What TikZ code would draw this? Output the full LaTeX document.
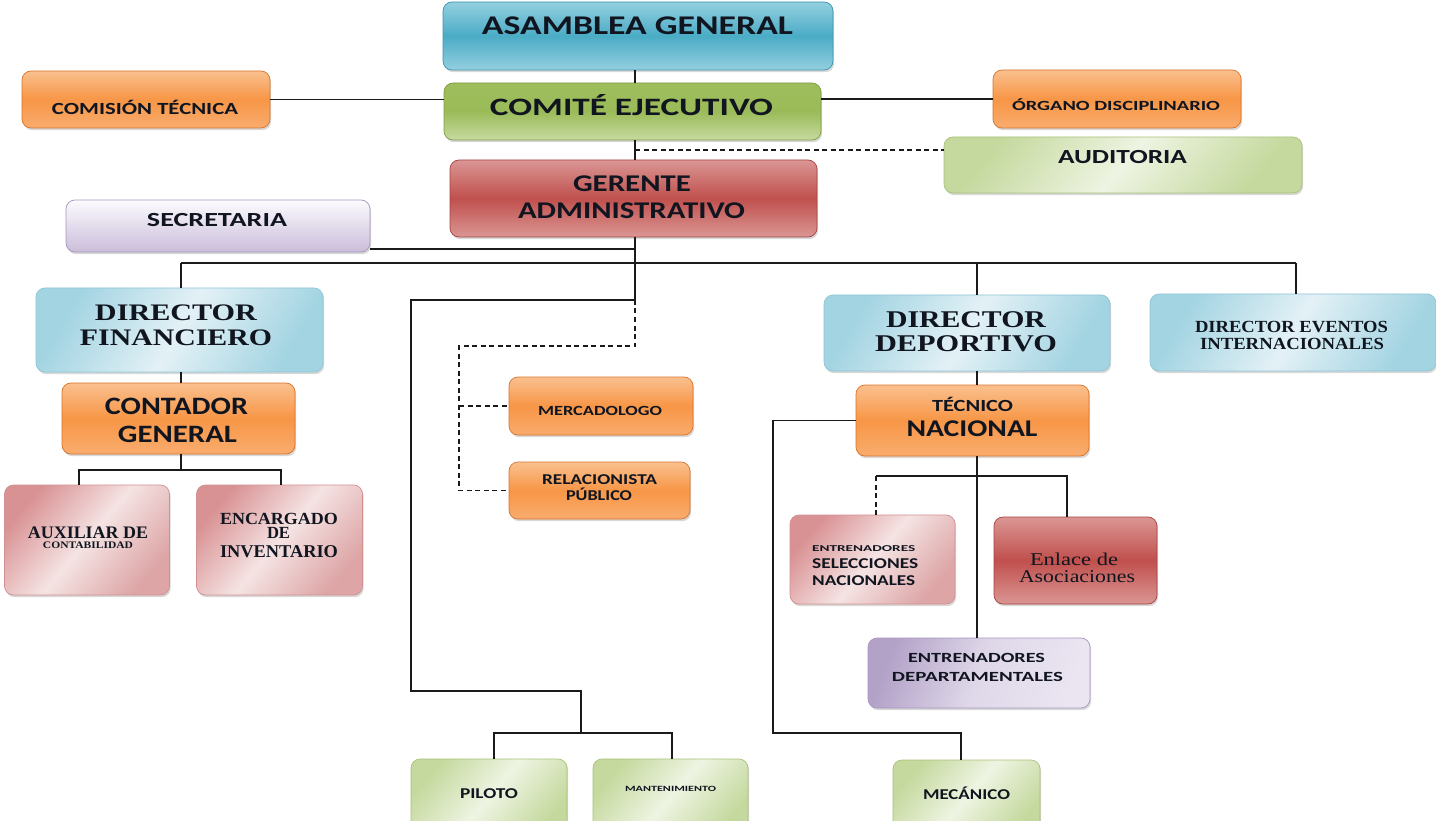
\documentclass[tikz,border=0pt]{standalone}
\usepackage{fontspec}
\setmainfont{Liberation Serif}
\setsansfont{Carlito}
\usepackage{graphicx}
\usetikzlibrary{shadows}
\definecolor{txt}{HTML}{10151F}
\definecolor{lnc}{HTML}{1A1A1A}
\definecolor{blueL}{HTML}{93CFDF}
\definecolor{blueM}{HTML}{4BACC6}
\definecolor{blueB}{HTML}{3C94AD}
\definecolor{greenT}{HTML}{9EBD5C}
\definecolor{greenM}{HTML}{9BBB59}
\definecolor{greenB}{HTML}{C6DAA0}
\definecolor{greenD}{HTML}{7F9D44}
\definecolor{orT}{HTML}{FAC08F}
\definecolor{orM}{HTML}{F79646}
\definecolor{orB}{HTML}{F9AC6E}
\definecolor{orD}{HTML}{D9742A}
\definecolor{redL}{HTML}{DA9694}
\definecolor{redM}{HTML}{C0504D}
\definecolor{redD}{HTML}{A44441}
\definecolor{lbE}{HTML}{A3D4E2}
\definecolor{lbM}{HTML}{E3F1F6}
\definecolor{lbD}{HTML}{8EC6D6}
\definecolor{pkE}{HTML}{D99294}
\definecolor{pkM}{HTML}{F5E3E3}
\definecolor{pkR}{HTML}{DDA5A6}
\definecolor{pkD}{HTML}{D39091}
\definecolor{lgE}{HTML}{C5D99E}
\definecolor{lgM}{HTML}{EEF4E2}
\definecolor{lgD}{HTML}{A9C279}
\definecolor{lvT}{HTML}{FCFBFE}
\definecolor{lvB}{HTML}{CABDDA}
\definecolor{lvE}{HTML}{B3A2C8}
\definecolor{lvM}{HTML}{EAE5F1}
\definecolor{lvD}{HTML}{A896C0}
\newcommand\Fsb[1]{\sffamily\bfseries\fontsize{#1}{#1}\selectfont}
\newcommand\Frb[1]{\rmfamily\bfseries\fontsize{#1}{#1}\selectfont}
\newcommand\Frn[1]{\rmfamily\fontsize{#1}{#1}\selectfont}
\newcommand\fitw[2]{\resizebox{#1pt}{\height}{#2}}
\tikzset{
  sz/.style 2 args={minimum width=#1pt, minimum height=#2pt},
  box/.style={rounded corners=9pt, inner sep=0pt, line width=0.7pt,
    drop shadow={opacity=0.3, shadow xshift=1.2pt, shadow yshift=-2.2pt}},
  blueS/.style={box, draw=blueB, top color=blueL, bottom color=blueL, middle color=blueM},
  greenS/.style={box, draw=greenD, top color=greenT, bottom color=greenB, middle color=greenM},
  orangeS/.style={box, draw=orD, top color=orT, bottom color=orB, middle color=orM},
  redS/.style={box, draw=redD, top color=redL, bottom color=redL, middle color=redM},
  ltblueS/.style={box, draw=lbD, left color=lbE, right color=lbE, middle color=lbM, shading angle=60},
  pinkS/.style={box, draw=pkD, left color=pkE, right color=pkR, middle color=pkM, shading angle=50},
  ltgreenS/.style={box, draw=lgD, left color=lgE, right color=lgE, middle color=lgM, shading angle=50},
  lavS/.style={box, draw=lvD, top color=lvT, bottom color=lvB},
  lavSS/.style={box, draw=lvD, left color=lvE, right color=lvM, middle color=lvM!80!lvE, shading angle=70},
  tx/.style={anchor=base, inner sep=0pt, text=txt},
  txl/.style={anchor=base west, inner sep=0pt, text=txt},
  ln/.style={draw=lnc, line width=1.3pt},
  dl/.style={ln, dash pattern=on 5pt off 3.5pt},
}
\begin{document}
\begin{tikzpicture}[x=1pt,y=-1pt]
\useasboundingbox (0,0) rectangle (1436,821);
\clip (0,0) rectangle (1436,821);
\fill[white] (0,0) rectangle (1436,821);

% ---------- boxes ----------
\node[blueS, sz={390}{68}] (asam) at (638,36) {};
\node[greenS, sz={377}{57}] (comite) at (632.5,111.5) {};
\node[orangeS, sz={248}{57}] (comision) at (146,99.5) {};
\node[orangeS, sz={248}{58}] (organo) at (1117,99) {};
\node[ltgreenS, sz={358}{56}] (aud) at (1123,165) {};
\node[redS, sz={367}{77}] (ger) at (633.5,198.5) {};
\node[lavS, sz={304}{52}] (sec) at (218,226) {};
\node[ltblueS, sz={287}{84}] (df) at (179.5,330) {};
\node[orangeS, sz={233}{71}] (cg) at (178.5,418.5) {};
\node[pinkS, sz={165}{110}] (aux) at (87,540) {};
\node[pinkS, sz={166}{110}] (enc) at (279.5,540) {};
\node[orangeS, sz={184}{58}] (merc) at (601,406) {};
\node[orangeS, sz={181}{57}] (rel) at (599.5,490.5) {};
\node[ltblueS, sz={286}{76}] (dd) at (967,333) {};
\node[ltblueS, sz={286}{77}] (dei) at (1293,332.5) {};
\node[orangeS, sz={233}{71}] (tn) at (972.5,420.5) {};
\node[pinkS, sz={165}{89}] (esn) at (872.5,559.5) {};
\node[redS, sz={163}{87}] (enl) at (1075.5,560.5) {};
\node[lavSS, sz={222}{70}] (ed) at (979,673) {};
\node[ltgreenS, sz={156}{76}] (pil) at (489,797) {};
\node[ltgreenS, sz={155}{76}] (man) at (670.5,797) {};
\node[ltgreenS, sz={147}{76}] (mec) at (966.5,798) {};

% ---------- junction coordinates ----------
\coordinate (sp) at (635,0);
\coordinate (ja) at (635,150);
\coordinate (js) at (635,249);
\coordinate (g1) at (635,300);
\coordinate (g2) at (411,691);
\coordinate (g3) at (581,733);
\coordinate (pb1) at (494,733);
\coordinate (pb2) at (672,733);
\coordinate (b1) at (181,263);
\coordinate (b2) at (1296,263);
\coordinate (b3) at (977,263);
\coordinate (d2) at (459,346);
\coordinate (c1) at (79,470);
\coordinate (c2) at (281,470);
\coordinate (m1) at (773,733);
\coordinate (m2) at (961,733);
\coordinate (e1) at (876,476);
\coordinate (e2) at (1067,476);

% ---------- connectors ----------
\draw[ln] (asam.south -| sp) -- (comite.north -| sp);
\draw[ln] (comision.east) -- (comision.east -| comite.west);
\draw[ln] (comite.east |- organo.west) -- (organo.west);
\draw[ln] (comite.south -| sp) -- (ger.north -| sp);
\draw[dl] (ja) -- (ja -| aud.west);
\draw[ln] (js -| sec.east) -- (js);
\draw[ln] (ger.south -| sp) -- (g1) -| (g2) -| (g3);
\draw[ln] (pil.north -| pb1) -- (pb1) -- (pb2) -- (man.north -| pb2);
\draw[ln] (b1) -- (b2);
\draw[ln] (b1) -- (df.north -| b1);
\draw[ln] (b3) -- (dd.north -| b3);
\draw[ln] (b2) -- (dei.north -| b2);
\draw[dl] (g1) |- (d2) -- (d2 |- rel.west) -- (rel.west);
\draw[dl] (d2 |- merc.west) -- (merc.west);
\draw[ln] (df.south -| b1) -- (cg.north -| b1);
\draw[ln] (cg.south -| b1) -- (b1 |- c1);
\draw[ln] (aux.north -| c1) -- (c1) -- (c2) -- (enc.north -| c2);
\draw[ln] (dd.south -| b3) -- (tn.north -| b3);
\draw[ln] (tn.west) -| (m1) -- (m2) -- (mec.north -| m2);
\draw[ln] (tn.south -| b3) -- (ed.north -| b3);
\draw[ln] (e1) -- (e2) -- (enl.north -| e2);
\draw[dl] (e1) -- (esn.north -| e1);

% ---------- texts ----------
\node[tx, font=\Fsb{27}] (t1) at (637.5,35) {\fitw{311}{ASAMBLEA GENERAL}};
\node[tx, font=\Fsb{25}] (t2) at (631.5,116) {\fitw{283}{COMITÉ EJECUTIVO}};
\node[tx, font=\Fsb{17}] (t3) at (145,115) {\fitw{186}{COMISIÓN TÉCNICA}};
\node[tx, font=\Fsb{14}] (t4) at (1116,110.5) {\fitw{208}{ÓRGANO DISCIPLINARIO}};
\node[tx, font=\Fsb{20}] (t5) at (1122.5,163.3) {\fitw{129}{AUDITORIA}};
\node[tx, font=\Fsb{24}] (t6a) at (632,191.7) {\fitw{118}{GERENTE}};
\node[tx, font=\Fsb{24}] (t6b) at (631.5,219) {\fitw{227}{ADMINISTRATIVO}};
\node[tx, font=\Fsb{20}] (t7) at (217,227) {\fitw{140}{SECRETARIA}};
\node[tx, font=\Frb{23.7}] (t8a) at (176,320.7) {\fitw{162}{DIRECTOR}};
\node[tx, font=\Frb{23.7}] (t8b) at (176,345.7) {\fitw{192}{FINANCIERO}};
\node[tx, font=\Fsb{25}] (t9a) at (176.5,414) {\fitw{143}{CONTADOR}};
\node[tx, font=\Fsb{25}] (t9b) at (177.5,442) {\fitw{119}{GENERAL}};
\node[tx, font=\Frb{17.6}] (t10a) at (88,538.3) {\fitw{120}{AUXILIAR DE}};
\node[tx, font=\Frb{10}] (t10b) at (88,548.8) {\fitw{90}{CONTABILIDAD}};
\node[tx, font=\Frb{17}] (t11a) at (279,524) {\fitw{118}{ENCARGADO}};
\node[tx, font=\Frb{17}] (t11b) at (278.5,538.5) {\fitw{23}{DE}};
\node[tx, font=\Frb{18}] (t11c) at (279,557) {\fitw{118}{INVENTARIO}};
\node[tx, font=\Fsb{14}] (t12) at (600,415) {\fitw{124}{MERCADOLOGO}};
\node[tx, font=\Fsb{15}] (t13a) at (599.5,484) {\fitw{115}{RELACIONISTA}};
\node[tx, font=\Fsb{15}] (t13b) at (599,500) {\fitw{66}{PÚBLICO}};
\node[tx, font=\Frb{24}] (t14a) at (966,327) {\fitw{160}{DIRECTOR}};
\node[tx, font=\Frb{24}] (t14b) at (966,352) {\fitw{182}{DEPORTIVO}};
\node[tx, font=\Frb{17}] (t15a) at (1291.5,332) {\fitw{193}{DIRECTOR EVENTOS}};
\node[tx, font=\Frb{17}] (t15b) at (1292,349.5) {\fitw{184}{INTERNACIONALES}};
\node[tx, font=\Fsb{17}] (t16a) at (972.5,411.7) {\fitw{81}{TÉCNICO}};
\node[tx, font=\Fsb{24}] (t16b) at (972,436.7) {\fitw{131}{NACIONAL}};
\node[txl, font=\Fsb{9}] (t17a) at (812,551) {\fitw{103}{ENTRENADORES}};
\node[txl, font=\Fsb{15}] (t17b) at (812,568) {\fitw{106}{SELECCIONES}};
\node[txl, font=\Fsb{15}] (t17c) at (812,585) {\fitw{103}{NACIONALES}};
\node[tx, font=\Frn{18}] (t18a) at (1074,565) {\fitw{88}{Enlace de}};
\node[tx, font=\Frn{18}] (t18b) at (1077,582) {\fitw{116}{Asociaciones}};
\node[tx, font=\Fsb{14}] (t19a) at (976.5,662) {\fitw{137}{ENTRENADORES}};
\node[tx, font=\Fsb{14}] (t19b) at (977.5,681) {\fitw{171}{DEPARTAMENTALES}};
\node[tx, font=\Fsb{15}] (t20) at (489,798) {\fitw{58}{PILOTO}};
\node[tx, font=\Fsb{8}] (t21) at (670.5,791) {\fitw{91}{MANTENIMIENTO}};
\node[tx, font=\Fsb{15}] (t22) at (966.5,799) {\fitw{87}{MECÁNICO}};
\end{tikzpicture}
\end{document}
